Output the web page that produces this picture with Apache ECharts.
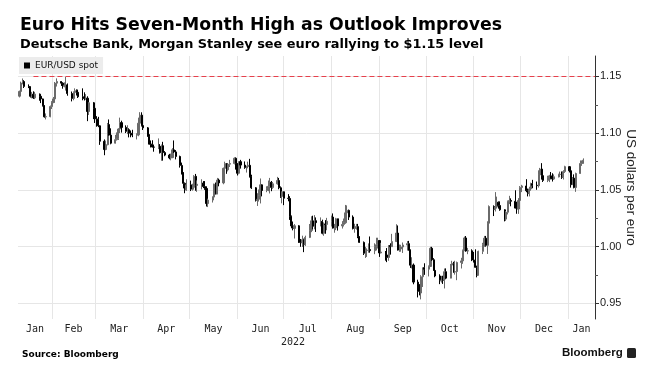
<!DOCTYPE html>
<html><head><meta charset="utf-8">
<script src="https://cdn.jsdelivr.net/npm/echarts@6/dist/echarts.min.js"></script>
<style>html,body{margin:0;padding:0;background:#fff}#c{width:653px;height:391px}</style>
</head><body><div id="c"></div>
<script>
// ---------- texts ----------
const titleText = 'Euro Hits Seven-Month High as Outlook Improves';
const subtitleText = 'Deutsche Bank, Morgan Stanley see euro rallying to $1.15 level';
const seriesName = 'EUR/USD spot';
const yAxisName = 'US dollars per euro';
const sourceText = 'Source: Bloomberg';
const logoText = 'Bloomberg';
const monthNames = ['Jan','Feb','Mar','Apr','May','Jun','Jul','Aug','Sep','Oct','Nov','Dec'];
const yearLabel = '2022';

// ---------- axes ----------
const xStart = '2022-01-10';
const xEnd = '2023-01-18T12:00';
const yMin = 0.9363, yMax = 1.168;
const yTicks = [0.95, 1.00, 1.05, 1.10, 1.15];
const yMinorTicks = [0.975, 1.025, 1.075, 1.125];
const targetLevel = 1.15;
const targetFrom = '2022-01-20';

// ---------- data: [open, close, low, high], consecutive weekdays from the first date ----------
const jan22Start = '2022-01-11';
const jan22 = [[1.1326,1.1368,1.1315,1.1375],[1.1368,1.1442,1.1356,1.1454],[1.1442,1.1455,1.1430,1.1482],[1.1455,1.1412,1.1398,1.1467],[1.1412,1.1409,1.1397,1.1430],[1.1409,1.1325,1.1314,1.1413],[1.1325,1.1343,1.1307,1.1364],[1.1343,1.1311,1.1302,1.1369],[1.1311,1.1344,1.1300,1.1364],[1.1344,1.1325,1.1286,1.1350],[1.1325,1.1302,1.1265,1.1330],[1.1302,1.1242,1.1235,1.1305],[1.1242,1.1144,1.1137,1.1248],[1.1144,1.1146,1.1121,1.1174],[1.1146,1.1235,1.1140,1.1244]];
const feb22Start = '2022-02-01';
const feb22 = [[1.1235,1.1272,1.1213,1.1282],[1.1272,1.1302,1.1264,1.1319],[1.1302,1.1441,1.1269,1.1451],[1.1441,1.1455,1.1411,1.1483],[1.1455,1.1441,1.1416,1.1458],[1.1441,1.1415,1.1392,1.1449],[1.1415,1.1423,1.1404,1.1448],[1.1423,1.1425,1.1375,1.1495],[1.1425,1.1349,1.1330,1.1438],[1.1349,1.1306,1.1280,1.1367],[1.1306,1.1359,1.1290,1.1368],[1.1359,1.1374,1.1337,1.1395],[1.1374,1.1360,1.1332,1.1386],[1.1360,1.1321,1.1310,1.1384],[1.1321,1.1309,1.1290,1.1395],[1.1309,1.1307,1.1288,1.1360],[1.1307,1.1308,1.1294,1.1344],[1.1308,1.1191,1.1106,1.1325],[1.1191,1.1268,1.1160,1.1275],[1.1268,1.1219,1.1124,1.1275]];
const mar22Start = '2022-03-01';
const mar22 = [[1.1219,1.1126,1.1090,1.1234],[1.1126,1.1118,1.1057,1.1150],[1.1118,1.1065,1.1053,1.1144],[1.1065,1.0929,1.0897,1.1070],[1.0929,1.0856,1.0806,1.0945],[1.0856,1.0899,1.0850,1.0933],[1.0899,1.1076,1.0893,1.1090],[1.1076,1.0983,1.0978,1.1121],[1.0983,1.0912,1.0902,1.1043],[1.0912,1.0943,1.0909,1.0985],[1.0943,1.0955,1.0935,1.1007],[1.0955,1.1037,1.0940,1.1044],[1.1037,1.1093,1.1001,1.1137],[1.1093,1.1051,1.1005,1.1110],[1.1051,1.1016,1.1001,1.1069],[1.1016,1.1031,1.0992,1.1070],[1.1031,1.1000,1.0963,1.1043],[1.1000,1.0997,1.0964,1.1024],[1.0997,1.0983,1.0965,1.1030],[1.0983,1.0985,1.0945,1.0999],[1.0985,1.1088,1.0973,1.1137],[1.1088,1.1159,1.1086,1.1185],[1.1159,1.1067,1.1059,1.1184]];
const apr22Start = '2022-04-01';
const apr22 = [[1.1067,1.1047,1.1028,1.1076],[1.1047,1.0972,1.0968,1.1054],[1.0972,1.0903,1.0899,1.0991],[1.0903,1.0902,1.0874,1.0936],[1.0902,1.0878,1.0873,1.0938],[1.0878,1.0877,1.0837,1.0900],[1.0877,1.0885,1.0860,1.0954],[1.0885,1.0828,1.0821,1.0904],[1.0828,1.0890,1.0757,1.0900],[1.0890,1.0829,1.0758,1.0924],[1.0829,1.0807,1.0797,1.0842],[1.0807,1.0782,1.0770,1.0818],[1.0782,1.0785,1.0761,1.0820],[1.0785,1.0853,1.0780,1.0868],[1.0853,1.0835,1.0826,1.0936],[1.0835,1.0795,1.0769,1.0851],[1.0795,1.0716,1.0697,1.0802],[1.0716,1.0640,1.0637,1.0741],[1.0640,1.0558,1.0514,1.0657],[1.0558,1.0501,1.0471,1.0566],[1.0501,1.0545,1.0492,1.0594]];
const may22Start = '2022-05-02';
const may22 = [[1.0545,1.0507,1.0490,1.0582],[1.0507,1.0523,1.0494,1.0555],[1.0523,1.0620,1.0506,1.0630],[1.0620,1.0540,1.0493,1.0641],[1.0540,1.0550,1.0483,1.0584],[1.0550,1.0560,1.0505,1.0594],[1.0560,1.0530,1.0516,1.0578],[1.0530,1.0513,1.0501,1.0578],[1.0513,1.0380,1.0354,1.0532],[1.0380,1.0411,1.0349,1.0423],[1.0411,1.0437,1.0389,1.0443],[1.0437,1.0551,1.0430,1.0555],[1.0551,1.0465,1.0460,1.0565],[1.0465,1.0587,1.0462,1.0606],[1.0587,1.0562,1.0532,1.0600],[1.0562,1.0690,1.0550,1.0697],[1.0690,1.0733,1.0660,1.0749],[1.0733,1.0677,1.0642,1.0737],[1.0677,1.0727,1.0663,1.0734],[1.0727,1.0733,1.0702,1.0765],[1.0733,1.0779,1.0725,1.0787],[1.0779,1.0733,1.0679,1.0787]];
const jun22Start = '2022-06-01';
const jun22 = [[1.0733,1.0647,1.0627,1.0737],[1.0647,1.0749,1.0638,1.0752],[1.0749,1.0719,1.0688,1.0765],[1.0719,1.0697,1.0686,1.0751],[1.0697,1.0707,1.0653,1.0713],[1.0707,1.0717,1.0691,1.0749],[1.0717,1.0615,1.0610,1.0774],[1.0615,1.0519,1.0509,1.0634],[1.0519,1.0409,1.0398,1.0525],[1.0409,1.0418,1.0359,1.0471],[1.0418,1.0448,1.0398,1.0504],[1.0448,1.0545,1.0381,1.0601],[1.0545,1.0495,1.0444,1.0548],[1.0495,1.0509,1.0480,1.0532],[1.0509,1.0532,1.0489,1.0583],[1.0532,1.0567,1.0469,1.0606],[1.0567,1.0522,1.0489,1.0579],[1.0522,1.0554,1.0510,1.0570],[1.0554,1.0583,1.0547,1.0615],[1.0583,1.0519,1.0506,1.0606],[1.0519,1.0443,1.0430,1.0531],[1.0443,1.0484,1.0382,1.0487]];
const jul22Start = '2022-07-01';
const jul22 = [[1.0484,1.0427,1.0366,1.0487],[1.0427,1.0425,1.0400,1.0463],[1.0425,1.0266,1.0236,1.0445],[1.0266,1.0183,1.0162,1.0275],[1.0183,1.0161,1.0144,1.0222],[1.0161,1.0184,1.0072,1.0199],[1.0184,1.0037,1.0033,1.0190],[1.0037,1.0035,0.9999,1.0068],[1.0035,1.0062,0.9998,1.0097],[1.0062,1.0018,0.9952,1.0071],[1.0018,1.0082,1.0007,1.0097],[1.0082,1.0143,1.0076,1.0200],[1.0143,1.0228,1.0128,1.0268],[1.0228,1.0180,1.0154,1.0273],[1.0180,1.0229,1.0153,1.0278],[1.0229,1.0212,1.0130,1.0258],[1.0212,1.0222,1.0179,1.0258],[1.0222,1.0118,1.0109,1.0238],[1.0118,1.0200,1.0096,1.0214],[1.0200,1.0196,1.0114,1.0234],[1.0196,1.0224,1.0145,1.0254]];
const aug22Start = '2022-08-01';
const aug22 = [[1.0224,1.0261,1.0178,1.0274],[1.0261,1.0164,1.0160,1.0293],[1.0164,1.0166,1.0123,1.0201],[1.0166,1.0246,1.0146,1.0254],[1.0246,1.0183,1.0142,1.0247],[1.0183,1.0196,1.0160,1.0225],[1.0196,1.0211,1.0178,1.0248],[1.0211,1.0298,1.0202,1.0368],[1.0298,1.0320,1.0273,1.0364],[1.0320,1.0261,1.0235,1.0327],[1.0261,1.0160,1.0152,1.0276],[1.0160,1.0170,1.0123,1.0202],[1.0170,1.0177,1.0150,1.0201],[1.0177,1.0089,1.0075,1.0201],[1.0089,1.0038,1.0034,1.0092],[1.0038,0.9942,0.9927,1.0046],[0.9942,0.9967,0.9901,0.9999],[0.9967,0.9970,0.9910,0.9985],[0.9970,0.9975,0.9947,1.0029],[0.9975,0.9965,0.9947,1.0090],[0.9965,1.0002,0.9934,1.0030],[1.0002,1.0017,0.9967,1.0079],[1.0017,1.0054,0.9984,1.0079]];
const sep22Start = '2022-09-01';
const sep22 = [[1.0054,0.9945,0.9910,1.0057],[0.9945,0.9953,0.9943,1.0034],[0.9953,0.9927,0.9877,0.9962],[0.9927,0.9905,0.9864,0.9988],[0.9905,1.0010,0.9876,1.0014],[1.0010,1.0000,0.9930,1.0030],[1.0000,1.0045,1.0000,1.0113],[1.0045,1.0120,1.0044,1.0198],[1.0120,0.9970,0.9966,1.0187],[0.9970,0.9980,0.9955,1.0019],[0.9980,0.9998,0.9956,1.0017],[0.9998,1.0015,0.9945,1.0037],[1.0015,1.0027,0.9966,1.0050],[1.0027,0.9970,0.9965,1.0051],[0.9970,0.9837,0.9813,0.9976],[0.9837,0.9838,0.9808,0.9907],[0.9838,0.9688,0.9669,0.9852],[0.9688,0.9606,0.9553,0.9709],[0.9606,0.9592,0.9571,0.9670],[0.9592,0.9735,0.9536,0.9749],[0.9735,0.9815,0.9645,0.9815],[0.9815,0.9802,0.9752,0.9854]];
const oct22Start = '2022-10-03';
const oct22 = [[0.9802,0.9826,0.9738,0.9835],[0.9826,0.9986,0.9823,0.9999],[0.9986,0.9885,0.9875,0.9999],[0.9885,0.9791,0.9787,0.9899],[0.9791,0.9742,0.9731,0.9808],[0.9742,0.9700,0.9670,0.9757],[0.9700,0.9706,0.9684,0.9743],[0.9706,0.9703,0.9672,0.9744],[0.9703,0.9780,0.9632,0.9808],[0.9780,0.9723,0.9713,0.9809],[0.9723,0.9838,0.9722,0.9848],[0.9838,0.9853,0.9819,0.9876],[0.9853,0.9776,0.9770,0.9867],[0.9776,0.9781,0.9754,0.9876],[0.9781,0.9861,0.9705,0.9869],[0.9861,0.9875,0.9808,0.9902],[0.9875,0.9965,0.9849,0.9975],[0.9965,1.0077,0.9963,1.0089],[1.0077,0.9962,0.9956,1.0094],[0.9962,0.9964,0.9934,0.9990],[0.9964,0.9883,0.9873,0.9977]];
const nov22Start = '2022-11-01';
const nov22 = [[0.9883,0.9875,0.9860,0.9954],[0.9875,0.9818,0.9815,0.9977],[0.9818,0.9749,0.9730,0.9833],[0.9749,0.9959,0.9746,0.9965],[0.9959,1.0019,0.9935,1.0034],[1.0019,1.0075,0.9999,1.0095],[1.0075,1.0012,1.0000,1.0095],[1.0012,1.0207,0.9936,1.0224],[1.0207,1.0354,1.0190,1.0364],[1.0354,1.0327,1.0270,1.0364],[1.0327,1.0350,1.0310,1.0481],[1.0350,1.0391,1.0336,1.0441],[1.0391,1.0363,1.0335,1.0399],[1.0363,1.0325,1.0317,1.0399],[1.0325,1.0243,1.0223,1.0330],[1.0243,1.0304,1.0227,1.0314],[1.0304,1.0396,1.0284,1.0407],[1.0396,1.0407,1.0375,1.0448],[1.0407,1.0400,1.0356,1.0426],[1.0400,1.0340,1.0336,1.0497],[1.0340,1.0332,1.0290,1.0396],[1.0332,1.0407,1.0289,1.0428]];
const dec22Start = '2022-12-01';
const dec22 = [[1.0407,1.0522,1.0380,1.0534],[1.0522,1.0535,1.0481,1.0545],[1.0535,1.0493,1.0480,1.0595],[1.0493,1.0468,1.0443,1.0512],[1.0468,1.0509,1.0443,1.0528],[1.0509,1.0555,1.0493,1.0564],[1.0555,1.0541,1.0515,1.0589],[1.0541,1.0538,1.0501,1.0574],[1.0538,1.0632,1.0521,1.0673],[1.0632,1.0684,1.0620,1.0694],[1.0684,1.0626,1.0591,1.0736],[1.0626,1.0584,1.0570,1.0636],[1.0584,1.0606,1.0569,1.0625],[1.0606,1.0624,1.0569,1.0633],[1.0624,1.0603,1.0593,1.0658],[1.0603,1.0596,1.0574,1.0647],[1.0596,1.0616,1.0590,1.0637],[1.0616,1.0636,1.0610,1.0643],[1.0636,1.0638,1.0613,1.0662],[1.0638,1.0611,1.0597,1.0663],[1.0611,1.0662,1.0592,1.0674],[1.0662,1.0705,1.0650,1.0713]];
const jan23Start = '2023-01-02';
const jan23 = [[1.0705,1.0669,1.0654,1.0710],[1.0669,1.0546,1.0520,1.0684],[1.0546,1.0604,1.0548,1.0614],[1.0604,1.0521,1.0514,1.0637],[1.0521,1.0645,1.0483,1.0652],[1.0645,1.0733,1.0643,1.0760],[1.0733,1.0737,1.0712,1.0760],[1.0737,1.0762,1.0731,1.0778]];

const monthBlocks = [[jan22Start,jan22],[feb22Start,feb22],[mar22Start,mar22],[apr22Start,apr22],[may22Start,may22],[jun22Start,jun22],[jul22Start,jul22],[aug22Start,aug22],[sep22Start,sep22],[oct22Start,oct22],[nov22Start,nov22],[dec22Start,dec22],[jan23Start,jan23]];

// ---------- build ----------
function parseDay(s){
  const [d, t] = s.split('T');
  const [y,m,dd] = d.split('-').map(Number);
  let h = 0, mi = 0;
  if (t) { [h, mi] = t.split(':').map(Number); }
  return new Date(y, m-1, dd, h, mi);
}
const candleData = [];
monthBlocks.forEach(([start, rows]) => {
  const d = parseDay(start);
  rows.forEach(r => {
    while (d.getDay() === 0 || d.getDay() === 6) d.setDate(d.getDate()+1);
    candleData.push([d.getTime(), r[0], r[1], r[2], r[3]]);
    d.setDate(d.getDate()+1);
  });
});

const xMin = parseDay(xStart).getTime();
const xMax = parseDay(xEnd).getTime();
const monthStarts = [], monthMids = [];
{
  const d = parseDay(xStart); d.setDate(1);
  while (d.getTime() < xMax) {
    const s = d.getTime();
    const e = new Date(d.getFullYear(), d.getMonth()+1, 1).getTime();
    if (s > xMin) monthStarts.push(s);
    monthMids.push((Math.max(s, xMin) + Math.min(e, xMax)) / 2);
    d.setMonth(d.getMonth()+1);
  }
}
const yearEnd = new Date(Number(yearLabel)+1, 0, 1).getTime();
const yearMid = (Math.max(new Date(Number(yearLabel),0,1).getTime(), xMin) + Math.min(yearEnd, xMax)) / 2;

const chart = echarts.init(document.getElementById('c'));
const monoFont = 'DejaVu Sans Mono';
const sansFont = 'Liberation Sans';
const gridColor = '#e6e6e6';

chart.setOption({
  animation: false,
  backgroundColor: '#ffffff',
  grid: {left: 18, right: 58, top: 56, bottom: 72, containLabel: false},
  legend: {
    left: 19, top: 57, padding: [4, 5, 4, 5], backgroundColor: '#ececec',
    itemWidth: 6, itemHeight: 6, itemGap: 3, icon: 'rect', selectedMode: false,
    textStyle: {fontSize: 9, fontFamily: 'DejaVu Sans', color: '#111'},
    data: [{name: seriesName, itemStyle: {color: '#000', borderWidth: 0}}]
  },
  xAxis: [{
    type: 'value', min: xMin, max: xMax,
    axisLine: {show: false},
    axisTick: {show: false, customValues: monthStarts},
    splitLine: {show: true, lineStyle: {color: gridColor, width: 1}},
    axisLabel: {
      customValues: monthMids, margin: 5, color: '#222', fontFamily: monoFont, fontSize: 10,
      formatter: v => monthNames[new Date(v).getMonth()]
    }
  }, {
    type: 'value', min: xMin, max: xMax, position: 'bottom', gridIndex: 0,
    axisLine: {show: false}, axisTick: {show: false, customValues: [yearMid]}, splitLine: {show: false},
    axisLabel: {customValues: [yearMid], margin: 18, color: '#222', fontFamily: monoFont, fontSize: 10,
      formatter: () => yearLabel}
  }],
  yAxis: [{
    type: 'value', position: 'right', min: yMin, max: yMax,
    name: yAxisName, nameLocation: 'middle', nameRotate: -90, nameGap: 29, nameMoveOverlap: false,
    nameTextStyle: {fontSize: 13.5, fontFamily: sansFont, color: '#222'},
    axisLine: {show: true, lineStyle: {color: '#333', width: 1}},
    axisTick: {show: true, length: 4, customValues: yTicks, lineStyle: {color: '#333'}},
    axisLabel: {customValues: yTicks, margin: 5, color: '#222', fontFamily: sansFont, fontSize: 11,
      formatter: v => v.toFixed(2)},
    splitLine: {show: true, lineStyle: {color: gridColor, width: 1}}
  }, {
    type: 'value', position: 'right', min: yMin, max: yMax, offset: 0,
    axisLine: {show: false},
    axisTick: {show: true, length: 3, customValues: yMinorTicks, lineStyle: {color: '#555'}},
    axisLabel: {show: false}, splitLine: {show: false}
  }],
  series: [{
    type: 'candlestick', name: seriesName, xAxisIndex: 0, yAxisIndex: 0,
    barWidth: 1.6,
    itemStyle: {color: '#6a6a6a', color0: '#000', borderColor: '#6a6a6a', borderColor0: '#000', borderWidth: 1},
    data: candleData,
    markLine: {
      silent: true, symbol: 'none', label: {show: false},
      lineStyle: {color: '#e6414c', type: [5, 3], width: 1},
      data: [[{coord: [parseDay(targetFrom).getTime(), targetLevel]}, {coord: [xMax, targetLevel]}]]
    }
  }],
  graphic: [
    {type: 'text', left: 20, top: 17, style: {text: titleText, font: 'bold 17.3px "DejaVu Sans"', fill: '#000'}},
    {type: 'text', left: 20, top: 38, style: {text: subtitleText, font: 'bold 12.9px "DejaVu Sans"', fill: '#000'}},
    {type: 'text', left: 22, top: 350, style: {text: sourceText, font: 'bold 9px "DejaVu Sans"', fill: '#000'}},
    {type: 'text', left: 562, top: 347, style: {text: logoText, font: 'bold 11.5px "Liberation Sans"', fill: '#111'}},
    {type: 'rect', left: 627, top: 348, shape: {width: 9, height: 10, r: 1.5}, style: {fill: '#222'}}
  ]
});
</script></body></html>
